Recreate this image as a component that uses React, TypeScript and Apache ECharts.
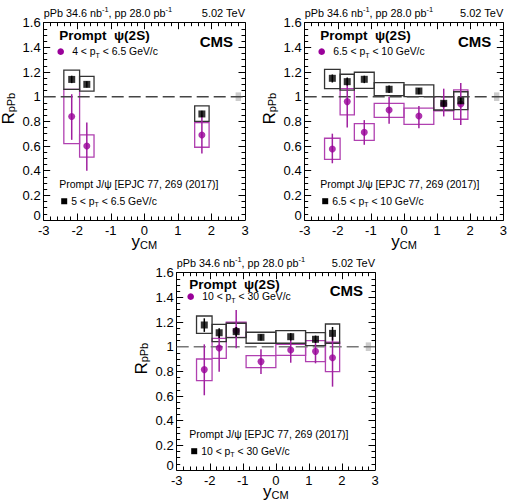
import React, { useEffect, useRef } from "react";
import * as echarts from "echarts";

const FONT = '"Liberation Sans", Arial, Helvetica, sans-serif';

// rapidity bins (y_CM)
const binLo = [-2.4, -1.93, -1.5, -0.9, 0, 0.9, 1.5];
const binHi = [-1.93, -1.5, -0.9, 0, 0.9, 1.5, 1.93];
const binCenter = [-2.165, -1.715, -1.2, -0.45, 0.45, 1.2, 1.715];

// global uncertainty box [xlo, xhi, ylo, yhi]
const globalUnc = [2.72, 2.88, 0.965, 1.035];

// Panel 1: 4 < pT < 6.5 (psi2S), 5 < pT < 6.5 (J/psi)
const bins1 = [0, 1, 6];
const psi1 = [0.84, 0.6, 0.69];
const psiStatLo1 = [0.65, 0.4, 0.54];
const psiStatHi1 = [1.02, 0.79, 0.85];
const psiSystLo1 = [0.62, 0.51, 0.59];
const psiSystHi1 = [1.06, 0.69, 0.79];
const jpsi1 = [1.14, 1.1, 0.86];
const jpsiStatLo1 = [1.11, 1.075, 0.835];
const jpsiStatHi1 = [1.17, 1.125, 0.885];
const jpsiSystLo1 = [1.06, 1.045, 0.8];
const jpsiSystHi1 = [1.215, 1.165, 0.925];

// Panel 2: 6.5 < pT < 10
const bins2 = [0, 1, 2, 3, 4, 5, 6];
const psi2 = [0.576, 0.96, 0.712, 0.892, 0.843, 0.94, 0.94];
const psiStatLo2 = [0.46, 0.75, 0.61, 0.78, 0.745, 0.84, 0.77];
const psiStatHi2 = [0.7, 1.15, 0.81, 1.0, 0.925, 1.065, 1.11];
const psiSystLo2 = [0.492, 0.852, 0.646, 0.833, 0.776, 0.886, 0.817];
const psiSystHi2 = [0.663, 1.065, 0.781, 0.946, 0.908, 1.0, 1.055];
const jpsi2 = [1.149, 1.122, 1.141, 1.06, 1.046, 0.946, 0.967];
const jpsiStatLo2 = [1.115, 1.09, 1.11, 1.03, 1.02, 0.92, 0.94];
const jpsiStatHi2 = [1.18, 1.155, 1.17, 1.09, 1.07, 0.97, 0.99];
const jpsiSystLo2 = [1.065, 1.054, 1.068, 1.008, 1.0, 0.892, 0.895];
const jpsiSystHi2 = [1.222, 1.182, 1.198, 1.114, 1.095, 1.0, 1.04];

// Panel 3: 10 < pT < 30
const bins3 = [0, 1, 2, 3, 4, 5, 6];
const psi3 = [0.814, 0.99, 1.13, 0.879, 0.973, 0.962, 0.911];
const psiStatLo3 = [0.606, 0.797, 0.987, 0.779, 0.87, 0.865, 0.676];
const psiStatHi3 = [1.019, 1.108, 1.297, 0.979, 1.081, 1.054, 1.108];
const psiSystLo3 = [0.724, 0.906, 1.076, 0.83, 0.93, 0.879, 0.797];
const psiSystHi3 = [0.9, 1.068, 1.198, 0.927, 1.019, 1.049, 1.036];
const jpsi3 = [1.176, 1.113, 1.122, 1.076, 1.081, 1.06, 1.108];
const jpsiStatLo3 = [1.12, 1.07, 1.08, 1.05, 1.05, 1.03, 1.05];
const jpsiStatHi3 = [1.23, 1.15, 1.16, 1.1, 1.11, 1.09, 1.16];
const jpsiSystLo3 = [1.108, 1.041, 1.073, 1.028, 1.028, 1.008, 1.028];
const jpsiSystHi3 = [1.249, 1.181, 1.19, 1.117, 1.13, 1.114, 1.184];

// labels
const psiLegend = [
  ["4 < p", "T", " < 6.5 GeV/c"],
  ["6.5 < p", "T", " < 10 GeV/c"],
  ["10 < p", "T", " < 30 GeV/c"],
];
const jpsiLegend = [
  ["5 < p", "T", " < 6.5 GeV/c"],
  ["6.5 < p", "T", " < 10 GeV/c"],
  ["10 < p", "T", " < 30 GeV/c"],
];

const PURPLE = "#990099";
const PURPLE_BAR = "#a020a0";
const PURPLE_BOX = "#b040b0";

const panels = [
  {
    left: 43.7, top: 22.7, w: 201.3, h: 197.3, dx: 15.5, promptY: 13, cmsY: 19, legY: 29, dash: "#444",
    bins: bins1, psi: psi1, psiStatLo: psiStatLo1, psiStatHi: psiStatHi1, psiSystLo: psiSystLo1, psiSystHi: psiSystHi1,
    jpsi: jpsi1, jpsiStatLo: jpsiStatLo1, jpsiStatHi: jpsiStatHi1, jpsiSystLo: jpsiSystLo1, jpsiSystHi: jpsiSystHi1,
  },
  {
    left: 304.7, top: 22.7, w: 198.6, h: 197.3, dx: 15.5, promptY: 13, cmsY: 19, legY: 29, dash: "#444",
    bins: bins2, psi: psi2, psiStatLo: psiStatLo2, psiStatHi: psiStatHi2, psiSystLo: psiSystLo2, psiSystHi: psiSystHi2,
    jpsi: jpsi2, jpsiStatLo: jpsiStatLo2, jpsiStatHi: jpsiStatHi2, jpsiSystLo: jpsiSystLo2, jpsiSystHi: jpsiSystHi2,
  },
  {
    left: 176.7, top: 272.7, w: 198.3, h: 197.3, dx: 12.5, promptY: 11.3, cmsY: 17.3, legY: 24, dash: "#777",
    bins: bins3, psi: psi3, psiStatLo: psiStatLo3, psiStatHi: psiStatHi3, psiSystLo: psiSystLo3, psiSystHi: psiSystHi3,
    jpsi: jpsi3, jpsiStatLo: jpsiStatLo3, jpsiStatHi: jpsiStatHi3, jpsiSystLo: jpsiSystLo3, jpsiSystHi: jpsiSystHi3,
  },
];

function boxRender(stroke: string, fill: string, lw: number) {
  return (params: any, api: any) => {
    const p1 = api.coord([api.value(0), api.value(3)]);
    const p2 = api.coord([api.value(1), api.value(2)]);
    return {
      type: "rect",
      shape: { x: p1[0], y: p1[1], width: p2[0] - p1[0], height: p2[1] - p1[1] },
      style: { fill, stroke, lineWidth: lw },
    };
  };
}

function barRender(color: string, lw: number) {
  return (params: any, api: any) => {
    const p1 = api.coord([api.value(0), api.value(1)]);
    const p2 = api.coord([api.value(0), api.value(2)]);
    return {
      type: "line",
      shape: { x1: p1[0], y1: p1[1], x2: p2[0], y2: p2[1] },
      style: { stroke: color, lineWidth: lw },
    };
  };
}

const textRich = {
  m: { fontSize: 10.4, fontFamily: FONT, lineHeight: 14, fill: "#000" },
  s: { fontSize: 7, fontFamily: FONT, lineHeight: 8, verticalAlign: "bottom", fill: "#000" },
  u: { fontSize: 7.5, fontFamily: FONT, lineHeight: 8, verticalAlign: "top", fill: "#000" },
};

function yLabel(v: number) {
  if (v === 0) return "{z|0}";
  return String(Math.round(v * 10) / 10);
}

function buildOption() {
  const grid: any[] = [];
  const xAxis: any[] = [];
  const yAxis: any[] = [];
  const series: any[] = [];
  const graphic: any[] = [];

  panels.forEach((P, i) => {
    grid.push({ left: P.left, top: P.top, width: P.w, height: P.h, containLabel: false });
    const common = {
      gridIndex: i,
      type: "value",
      axisLine: { show: true, onZero: false, lineStyle: { color: "#000", width: 1 } },
      axisTick: { show: true, inside: true, length: 6.5, lineStyle: { color: "#000", width: 1 } },
      minorTick: { show: true, length: 3.5, lineStyle: { color: "#000", width: 1 } },
      splitLine: { show: false },
      minorSplitLine: { show: false },
    };
    xAxis.push({
      ...common, position: "bottom", min: -3, max: 3, interval: 1,
      minorTick: { ...common.minorTick, splitNumber: 5 },
      axisLabel: { fontSize: 13, color: "#000", fontFamily: FONT, margin: 4 },
    });
    xAxis.push({
      ...common, position: "top", min: -3, max: 3, interval: 1,
      minorTick: { ...common.minorTick, splitNumber: 5 },
      axisLabel: { show: false },
    });
    yAxis.push({
      ...common, position: "left", min: 0, max: 1.6, interval: 0.2,
      minorTick: { ...common.minorTick, splitNumber: 4 },
      axisLabel: {
        fontSize: 13, color: "#000", fontFamily: FONT, margin: 3, formatter: yLabel,
        rich: { z: { fontSize: 13, fontFamily: FONT, color: "#000", padding: [0, 0, 9, 0] } },
      },
    });
    yAxis.push({
      ...common, position: "right", min: 0, max: 1.6, interval: 0.2,
      minorTick: { ...common.minorTick, splitNumber: 4 },
      axisLabel: { show: false },
    });

    const xi = 2 * i;
    const yi = 2 * i;
    const psiBoxes = P.bins.map((b, k) => [binLo[b], binHi[b], P.psiSystLo[k], P.psiSystHi[k]]);
    const jpsiBoxes = P.bins.map((b, k) => [binLo[b], binHi[b], P.jpsiSystLo[k], P.jpsiSystHi[k]]);
    const psiBars = P.bins.map((b, k) => [binCenter[b], P.psiStatLo[k], P.psiStatHi[k]]);
    const jpsiBars = P.bins.map((b, k) => [binCenter[b], P.jpsiStatLo[k], P.jpsiStatHi[k]]);
    const psiPts = P.bins.map((b, k) => [binCenter[b], P.psi[k]]);
    const jpsiPts = P.bins.map((b, k) => [binCenter[b], P.jpsi[k]]);

    series.push({
      type: "custom", xAxisIndex: xi, yAxisIndex: yi, renderItem: boxRender("none", "#cccccc", 0),
      data: [globalUnc], encode: { x: [0, 1], y: [2, 3] }, z: 2,
    });
    series.push({
      type: "custom", xAxisIndex: xi, yAxisIndex: yi, renderItem: boxRender(PURPLE_BOX, "none", 1.3),
      data: psiBoxes, encode: { x: [0, 1], y: [2, 3] }, z: 3,
    });
    series.push({
      type: "custom", xAxisIndex: xi, yAxisIndex: yi, renderItem: boxRender("#333", "none", 1.3),
      data: jpsiBoxes, encode: { x: [0, 1], y: [2, 3] }, z: 4,
    });
    series.push({
      type: "line", xAxisIndex: xi, yAxisIndex: yi, data: [[-3, 1], [3, 1]], symbol: "none",
      lineStyle: { color: P.dash, width: 1.5, type: [12, 5] }, z: 5, silent: true,
    });
    series.push({
      type: "custom", xAxisIndex: xi, yAxisIndex: yi, renderItem: barRender(PURPLE_BAR, 1.5),
      data: psiBars, encode: { x: 0, y: [1, 2] }, z: 6,
    });
    series.push({
      type: "scatter", xAxisIndex: xi, yAxisIndex: yi, data: psiPts, symbol: "circle", symbolSize: 7,
      itemStyle: { color: PURPLE }, z: 7,
    });
    series.push({
      type: "custom", xAxisIndex: xi, yAxisIndex: yi, renderItem: barRender("#000", 1.5),
      data: jpsiBars, encode: { x: 0, y: [1, 2] }, z: 8,
    });
    series.push({
      type: "scatter", xAxisIndex: xi, yAxisIndex: yi, data: jpsiPts, symbol: "rect", symbolSize: 7,
      itemStyle: { color: "#000" }, z: 9,
    });

    // texts
    graphic.push({
      type: "text", x: P.left, y: P.top - 10,
      style: {
        text: "{m|pPb 34.6 nb}{u|-1}{m|, pp 28.0 pb}{u|-1}",
        rich: { m: { ...textRich.m, fontSize: 10.8 }, u: textRich.u },
        verticalAlign: "middle", align: "left",
      },
    });
    graphic.push({
      type: "text", x: P.left + P.w, y: P.top - 10,
      style: { text: "5.02 TeV", fontSize: 11, fontFamily: FONT, fill: "#000", align: "right", verticalAlign: "middle" },
    });
    graphic.push({
      type: "text", x: P.left + P.dx, y: P.top + P.promptY,
      style: { text: "Prompt  ψ(2S)", fontSize: 13.5, fontWeight: "bold", fontFamily: FONT, fill: "#000", align: "left", verticalAlign: "middle" },
    });
    graphic.push({
      type: "text", x: P.left + P.w - 12, y: P.top + P.cmsY,
      style: { text: "CMS", fontSize: 15, fontWeight: "bold", fontFamily: FONT, fill: "#000", align: "right", verticalAlign: "middle" },
    });
    graphic.push({
      type: "circle", shape: { cx: P.left + P.dx + 1.5, cy: P.top + P.legY, r: 3.3 }, style: { fill: PURPLE },
    });
    const pl = psiLegend[i];
    graphic.push({
      type: "text", x: P.left + P.dx + 13, y: P.top + P.legY,
      style: { text: `{m|${pl[0]}}{s|${pl[1]}}{m|${pl[2]}}`, rich: textRich, align: "left", verticalAlign: "middle" },
    });
    graphic.push({
      type: "text", x: P.left + P.dx, y: P.top + 161.5,
      style: { text: "Prompt J/ψ [EPJC 77, 269 (2017)]", fontSize: 10.5, fontFamily: FONT, fill: "#000", align: "left", verticalAlign: "middle" },
    });
    graphic.push({
      type: "rect", shape: { x: P.left + P.dx + 2, y: P.top + 175.5, width: 6, height: 6 }, style: { fill: "#000" },
    });
    const jl = jpsiLegend[i];
    graphic.push({
      type: "text", x: P.left + P.dx + 12, y: P.top + 178.5,
      style: { text: `{m|${jl[0]}}{s|${jl[1]}}{m|${jl[2]}}`, rich: textRich, align: "left", verticalAlign: "middle" },
    });
    // axis titles
    graphic.push({
      type: "text", x: P.left - 35, y: P.top + 86, rotation: Math.PI / 2,
      style: {
        text: "{m|R}{s|pPb}",
        rich: {
          m: { fontSize: 17, fontFamily: FONT, lineHeight: 16, fill: "#000" },
          s: { fontSize: 11, fontFamily: FONT, lineHeight: 7, verticalAlign: "bottom", fill: "#000" },
        },
        align: "center", verticalAlign: "middle",
      },
    });
    graphic.push({
      type: "text", x: P.left + P.w / 2, y: P.top + P.h + 21,
      style: {
        text: "{m|y}{s|CM}",
        rich: {
          m: { fontSize: 17, fontFamily: FONT, lineHeight: 18, fill: "#000" },
          s: { fontSize: 11, fontFamily: FONT, lineHeight: 7, verticalAlign: "bottom", fill: "#000" },
        },
        align: "center", verticalAlign: "middle",
      },
    });
  });

  return {
    animation: false,
    backgroundColor: "#fff",
    textStyle: { fontFamily: FONT },
    grid,
    xAxis,
    yAxis,
    series,
    graphic,
  };
}

export default function App() {
  const ref = useRef<HTMLDivElement>(null);
  useEffect(() => {
    if (!ref.current) return;
    const chart = echarts.init(ref.current, null, { renderer: "svg" });
    chart.setOption(buildOption() as any);
    return () => chart.dispose();
  }, []);
  return (
    <div
      ref={ref}
      style={{ position: "absolute", left: 0, top: 0, width: 512, height: 504, background: "#fff" }}
    />
  );
}
